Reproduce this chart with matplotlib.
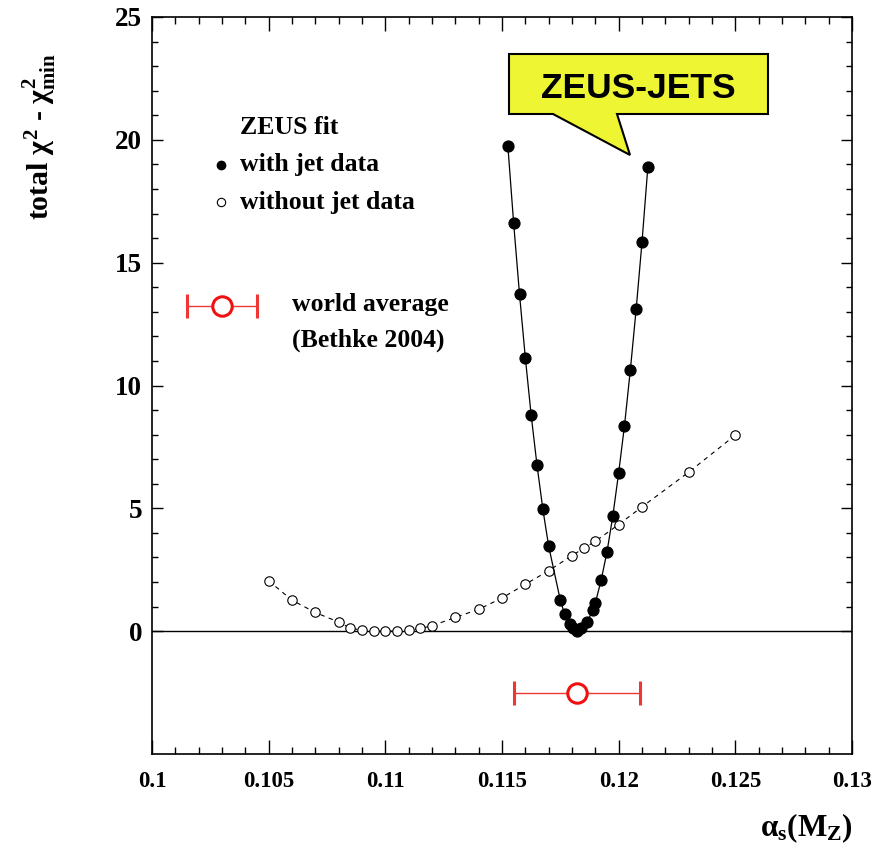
import matplotlib
matplotlib.use("Agg")
import matplotlib.pyplot as plt
from matplotlib.patches import Polygon
from matplotlib.ticker import MultipleLocator, FixedLocator
import numpy as np

# chi2 scan with jet data (filled)
with_x = [0.11525, 0.1155, 0.11575, 0.116, 0.11625, 0.1165, 0.11675, 0.117,
          0.1175, 0.11768, 0.1179, 0.11806, 0.11823, 0.1184, 0.11866, 0.11888,
          0.119, 0.11925, 0.1195, 0.11975, 0.12, 0.12025, 0.1205, 0.12075,
          0.121, 0.12125]
with_y = [19.76, 16.6, 13.72, 11.13, 8.79, 6.76, 4.97, 3.46,
          1.26, 0.7, 0.31, 0.11, 0.0, 0.11, 0.38, 0.85,
          1.15, 2.08, 3.23, 4.69, 6.45, 8.37, 10.63, 13.11,
          15.84, 18.88]

# chi2 scan without jet data (open)
without_x = [0.105, 0.106, 0.107, 0.108, 0.1085, 0.109, 0.1095, 0.110, 0.1105,
             0.111, 0.1115, 0.112, 0.113, 0.114, 0.115, 0.116, 0.117, 0.118,
             0.1185, 0.119, 0.120, 0.121, 0.123, 0.125]
without_y = [2.05, 1.26, 0.76, 0.37, 0.12, 0.04, 0.0, 0.0, 0.0,
             0.04, 0.11, 0.22, 0.56, 0.89, 1.35, 1.91, 2.46, 3.08,
             3.37, 3.66, 4.34, 5.06, 6.47, 7.98]

# world average (Bethke 2004)
wa_val = 0.1182
wa_err = 0.0027
wa_ypos = -2.5

W, H = 884, 850
plt.rcParams['mathtext.fontset'] = 'custom'
plt.rcParams['mathtext.rm'] = 'Liberation Serif:bold'
plt.rcParams['mathtext.it'] = 'Liberation Serif:bold'
plt.rcParams['mathtext.bf'] = 'Liberation Serif:bold'
serif = dict(family='Liberation Serif', weight='bold')

fig = plt.figure(figsize=(W / 100, H / 100), dpi=100)
ax = fig.add_axes([152 / W, 1 - 754 / H, 700 / W, 737 / H])

ax.axhline(0, color='black', lw=1.0, zorder=1)
ax.plot(with_x, with_y, '-', color='black', lw=0.9, marker='o', ms=7.8,
        mfc='black', mec='black', zorder=3)
ax.plot(without_x, without_y, '--', color='black', lw=0.8, dashes=(4, 4),
        marker='o', ms=6.8, mfc='white', mec='black', mew=0.8, zorder=2)
ax.errorbar([wa_val], [wa_ypos], xerr=[wa_err], fmt='o', ms=14, mfc='white',
            mec='#f01010', mew=2.2, ecolor='#f03535', elinewidth=1.0,
            capsize=8.5, capthick=1.0, zorder=4)

ax.set_xlim(0.1, 0.13)
ax.set_ylim(-5, 25)
ax.xaxis.set_major_locator(MultipleLocator(0.005))
ax.xaxis.set_minor_locator(MultipleLocator(0.001))
ax.yaxis.set_major_locator(FixedLocator([0, 5, 10, 15, 20, 25]))
ax.yaxis.set_minor_locator(FixedLocator(list(range(0, 26))))
ax.set_xticks([0.1, 0.105, 0.11, 0.115, 0.12, 0.125, 0.13])
ax.set_xticklabels(['0.1', '0.105', '0.11', '0.115', '0.12', '0.125', '0.13'])
ax.tick_params(axis='both', which='both', direction='in', top=True, right=True)
ax.tick_params(axis='x', which='major', length=10, width=1)
ax.tick_params(axis='x', which='minor', length=5, width=1)
ax.tick_params(axis='y', which='major', length=8, width=1)
ax.tick_params(axis='y', which='minor', length=4.5, width=1)
ax.tick_params(axis='x', which='major', pad=12)
ax.tick_params(axis='y', which='major', pad=7)
for lab in ax.get_xticklabels():
    lab.set_fontproperties('Liberation Serif')
    lab.set_fontweight('bold')
    lab.set_fontsize(16.5)
for lab in ax.get_yticklabels():
    lab.set_fontproperties('Liberation Serif')
    lab.set_fontweight('bold')
    lab.set_fontsize(19.5)
for sp in ax.spines.values():
    sp.set_linewidth(1.2)

# axis titles
fig.text(40 / W, 1 - 137 / H, r'total $\chi^2$ - $\chi^2_{min}$', rotation=90,
         ha='center', va='center', fontsize=21.5, **serif)
fig.text(853 / W, 1 - 828 / H, r'$\alpha_s(M_Z)$', ha='right', va='center',
         fontsize=22.5)

# legend
fs = 18.5
fig.text(240 / W, 1 - 127 / H, 'ZEUS fit', ha='left', va='center',
         fontsize=fs, **serif)
fig.text(240 / W, 1 - 165 / H, 'with jet data', ha='left', va='center',
         fontsize=fs, **serif)
fig.text(240 / W, 1 - 202 / H, 'without jet data', ha='left', va='center',
         fontsize=fs, **serif)
fig.text(292 / W, 1 - 305 / H, 'world average', ha='left', va='center',
         fontsize=fs, **serif)
fig.text(292 / W, 1 - 340 / H, '(Bethke 2004)', ha='left', va='center',
         fontsize=fs, **serif)
lx = ax.transAxes.inverted().transform(fig.transFigure.transform((221 / W, 1 - 165 / H)))
ax.plot([lx[0]], [lx[1]], 'o', ms=6, color='black', transform=ax.transAxes,
        clip_on=False)
lx = ax.transAxes.inverted().transform(fig.transFigure.transform((221 / W, 1 - 202 / H)))
ax.plot([lx[0]], [lx[1]], 'o', ms=6, mfc='white', mec='black', mew=0.8,
        transform=ax.transAxes, clip_on=False)
# world average legend marker
p1 = fig.transFigure.transform((222 / W, 1 - 306 / H))
d = ax.transData.inverted().transform(p1)
dx = (257 - 187) / 2 / 700 * 0.03
ax.errorbar([d[0]], [d[1]], xerr=[dx], fmt='o', ms=14, mfc='white',
            mec='#f01010', mew=2.2, ecolor='#f03535', elinewidth=1.0,
            capsize=8.5, capthick=1.0, clip_on=False)

# speech bubble
pts = [(509, 54), (768, 54), (768, 114), (617, 114), (630, 155),
       (553, 114), (509, 114)]
pts = [(x / W, 1 - y / H) for x, y in pts]
fig.patches.append(Polygon(pts, closed=True, facecolor='#eef532',
                           edgecolor='black', lw=1.5, transform=fig.transFigure))
fig.text(638 / W, 1 - 88 / H, 'ZEUS-JETS', ha='center', va='center',
         fontsize=25.5, family='Liberation Sans', weight='bold')

fig.savefig('out.png', dpi=100)
